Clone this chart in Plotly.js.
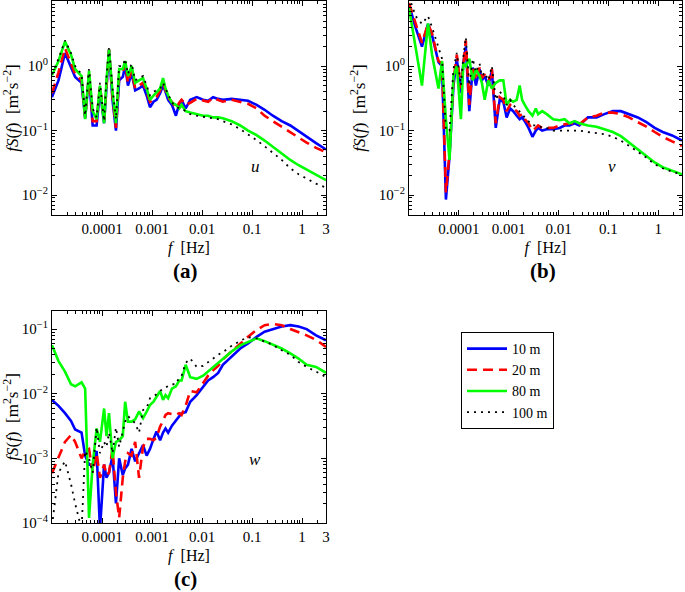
<!DOCTYPE html>
<html>
<head>
<meta charset="utf-8">
<script src="https://cdn.plot.ly/plotly-3.0.1.min.js"></script>
<style>html,body{margin:0;padding:0;background:#fff}#chart{width:685px;height:592px}
#chart text{font-family:"Liberation Serif","Times New Roman",Times,"DejaVu Serif",serif !important}</style>
</head>
<body>
<div id="chart"></div>
<script>
// Frequencies [Hz] shared by all spectra
const freq = [1.0e-5,1.35e-5,1.82e-5,2.4e-5,2.9e-5,3.9e-5,4.6e-5,5.5e-5,6.5e-5,7.8e-5,9.1e-5,1.1e-4,1.23e-4,1.38e-4,1.62e-4,1.9e-4,2.2e-4,2.6e-4,2.9e-4,3.3e-4,3.9e-4,4.6e-4,5.5e-4,6.6e-4,7.8e-4,9.1e-4,1.07e-3,1.23e-3,1.45e-3,1.66e-3,1.86e-3,2.1e-3,2.5e-3,3.0e-3,3.5e-3,3.9e-3,4.7e-3,5.8e-3,7.8e-3,0.0105,0.0132,0.0166,0.021,0.026,0.039,0.058,0.083,0.123,0.178,0.26,0.39,0.58,0.85,1.23,1.9,3.0];

const heights = ['10 m','20 m','80 m','100 m'];

// (a) u component
const u10  = [0.33,0.6,1.6,0.95,0.68,0.55,0.155,0.72,0.12,0.12,0.42,0.13,0.5,1.8,0.3,0.1,0.6,0.68,1.0,0.5,0.78,0.42,0.45,0.5,0.35,0.23,0.28,0.3,0.38,0.5,0.4,0.3,0.25,0.17,0.26,0.3,0.22,0.3,0.33,0.3,0.29,0.33,0.31,0.3,0.31,0.3,0.29,0.25,0.21,0.17,0.14,0.12,0.097,0.08,0.064,0.051];
const u20  = [0.38,0.8,1.9,1.1,0.75,0.6,0.16,0.75,0.14,0.14,0.5,0.14,0.6,1.8,0.33,0.11,0.7,0.8,1.1,0.55,0.85,0.45,0.5,0.55,0.4,0.28,0.3,0.33,0.42,0.55,0.42,0.32,0.28,0.22,0.27,0.3,0.25,0.27,0.31,0.29,0.28,0.32,0.3,0.28,0.3,0.28,0.26,0.22,0.17,0.14,0.115,0.093,0.077,0.065,0.054,0.046];
const u80  = [0.72,1.2,2.4,1.5,0.9,0.7,0.15,0.85,0.2,0.15,0.5,0.13,0.6,1.8,0.4,0.13,0.9,0.9,1.2,0.7,1.0,0.55,0.6,0.65,0.45,0.3,0.35,0.4,0.45,0.65,0.45,0.35,0.27,0.25,0.22,0.25,0.2,0.19,0.18,0.17,0.17,0.16,0.16,0.155,0.14,0.12,0.1,0.085,0.07,0.056,0.045,0.035,0.029,0.025,0.021,0.017];
const u100 = [0.75,1.3,2.5,1.6,1.0,0.75,0.17,0.9,0.22,0.16,0.55,0.14,0.7,1.9,0.45,0.15,1.0,1.0,1.3,0.75,1.1,0.6,0.65,0.7,0.5,0.35,0.4,0.42,0.45,0.55,0.45,0.35,0.27,0.24,0.22,0.22,0.2,0.18,0.17,0.165,0.16,0.155,0.15,0.14,0.125,0.105,0.088,0.071,0.057,0.045,0.035,0.026,0.021,0.018,0.015,0.013];

// (b) v component
const v10  = [9.0,4.0,2.0,4.5,3.0,1.15,1.0,0.0085,0.04,0.5,1.3,0.38,1.1,2.0,0.2,0.95,0.5,0.9,0.6,0.7,0.5,0.85,0.11,0.3,0.28,0.16,0.22,0.2,0.17,0.15,0.16,0.14,0.11,0.08,0.1,0.11,0.1,0.105,0.105,0.11,0.12,0.12,0.13,0.12,0.16,0.16,0.18,0.2,0.2,0.18,0.16,0.135,0.11,0.095,0.084,0.07];
const v20  = [9.5,4.5,2.3,4.5,3.2,1.2,1.1,0.011,0.045,0.6,1.5,0.45,1.2,2.5,0.25,1.0,0.6,0.95,0.65,0.75,0.55,0.9,0.13,0.33,0.3,0.2,0.25,0.22,0.2,0.17,0.18,0.15,0.13,0.1,0.11,0.12,0.11,0.11,0.11,0.12,0.125,0.13,0.13,0.125,0.16,0.17,0.19,0.19,0.18,0.16,0.135,0.115,0.095,0.08,0.068,0.058];
const v80  = [8.0,2.0,0.5,4.6,1.5,0.45,1.2,0.15,0.035,0.7,1.0,0.15,1.1,1.0,1.3,0.6,0.9,0.7,0.55,0.3,0.6,0.45,0.55,0.6,0.6,0.25,0.3,0.28,0.3,0.5,0.3,0.25,0.2,0.17,0.22,0.18,0.2,0.18,0.15,0.145,0.15,0.13,0.14,0.13,0.12,0.115,0.105,0.095,0.082,0.065,0.052,0.04,0.032,0.027,0.024,0.021];
const v100 = [12,6,4.5,6,4,2,1.3,0.1,0.1,0.9,1.6,0.5,1.4,2.8,0.5,1.3,0.8,1.1,0.7,0.8,0.6,1.0,0.3,0.4,0.35,0.25,0.3,0.25,0.22,0.2,0.18,0.16,0.14,0.12,0.12,0.12,0.11,0.11,0.1,0.1,0.1,0.1,0.1,0.1,0.095,0.09,0.088,0.08,0.07,0.058,0.047,0.038,0.03,0.026,0.023,0.021];

// (c) w component
const w10  = [0.008,0.0065,0.005,0.0038,0.0028,0.0025,0.0011,0.0008,0.0008,0.0013,0.00008,0.0008,0.0005,0.0006,0.0011,0.0002,0.001,0.00055,0.0007,0.0008,0.0014,0.0009,0.0012,0.0016,0.0011,0.0014,0.002,0.0026,0.0019,0.0025,0.0029,0.0025,0.0032,0.0039,0.0045,0.005,0.0052,0.0075,0.0095,0.013,0.016,0.018,0.021,0.028,0.037,0.05,0.06,0.076,0.091,0.1,0.11,0.115,0.11,0.1,0.08,0.067];
const w20  = [0.00059,0.001,0.0018,0.0023,0.0018,0.001,0.0013,0.0014,0.0006,0.0012,0.0005,0.0008,0.00055,0.0006,0.0014,0.0003,0.00012,0.0005,0.0009,0.0012,0.0011,0.0018,0.0005,0.0015,0.002,0.002,0.0019,0.0021,0.0031,0.0038,0.0047,0.005,0.0048,0.0047,0.005,0.0047,0.0065,0.011,0.0105,0.015,0.019,0.023,0.027,0.034,0.045,0.06,0.076,0.097,0.115,0.12,0.115,0.1,0.09,0.08,0.068,0.053];
const w80  = [0.056,0.032,0.022,0.014,0.013,0.015,0.012,0.00012,0.0008,0.0029,0.0018,0.0059,0.0022,0.005,0.001,0.0018,0.0019,0.0022,0.0075,0.0037,0.0037,0.004,0.0053,0.0042,0.0053,0.0067,0.0075,0.009,0.011,0.008,0.0095,0.0085,0.012,0.013,0.016,0.016,0.028,0.018,0.017,0.019,0.022,0.026,0.03,0.035,0.045,0.056,0.064,0.072,0.065,0.057,0.05,0.042,0.035,0.028,0.026,0.021];
const w100 = [0.00009,0.0006,0.0009,0.0004,0.0002,0.00008,0.0013,0.001,0.0006,0.003,0.0012,0.0018,0.0015,0.0025,0.0012,0.003,0.0015,0.0025,0.0037,0.0045,0.004,0.0035,0.0025,0.0056,0.006,0.0085,0.009,0.01,0.011,0.012,0.0125,0.013,0.014,0.014,0.018,0.019,0.03,0.035,0.026,0.027,0.031,0.035,0.04,0.044,0.055,0.066,0.075,0.072,0.064,0.057,0.047,0.04,0.031,0.026,0.022,0.018];

const xTickVals = [1e-4,1e-3,1e-2,1e-1,1,3];
const xTickText = ['0.0001','0.001','0.01','0.1','1','3'];

const styles = [
  {color:'#0000ff', width:2.6, dash:'solid'},
  {color:'#ff0000', width:2.6, dash:'10px,6px'},
  {color:'#00ff00', width:2.6, dash:'solid'},
  {color:'#000000', width:1.8, dash:'2px,5px'}
];

const panels = [
  {xa:'x',  ya:'y',  series:[u10,u20,u80,u100]},
  {xa:'x2', ya:'y2', series:[v10,v20,v80,v100]},
  {xa:'x3', ya:'y3', series:[w10,w20,w80,w100]}
];

const traces = [];
panels.forEach((p, pi) => {
  p.series.forEach((ys, si) => {
    traces.push({
      x: freq, y: ys, xaxis: p.xa, yaxis: p.ya,
      type: 'scatter', mode: 'lines', name: heights[si],
      line: styles[si], showlegend: pi === 0,
      legendrank: si
    });
  });
});

function minorVals(lo, hi) {
  const out = [];
  for (let e = lo; e <= hi; e++) {
    for (let k = 2; k <= 9; k++) out.push(k * Math.pow(10, e));
  }
  return out;
}

const FAM = '"Liberation Serif", "Times New Roman", Times, "DejaVu Serif", serif';
const font = {family:FAM, size:15, color:'#000'};
const ytitle = '<i>fS</i>(<i>f</i>)  [m<sup>2</sup>s<sup>−2</sup>]';
const xtitle = '<i>f</i>  [Hz]';

function xaxis(domain, anchor) {
  return {
    type:'log', domain: domain, anchor: anchor, range:[-5, Math.log10(3)],
    tickmode:'array', tickvals: xTickVals, ticktext: xTickText,
    ticks:'inside', ticklen:5, tickcolor:'#000', showline:true, linecolor:'#000', linewidth:1,
    mirror:'ticks', showgrid:false, zeroline:false, tickfont: font,
    minor:{tickmode:'array', tickvals: minorVals(-5, 0), ticks:'inside', ticklen:3, tickcolor:'#000', showgrid:false},
    title:{text: xtitle, font:{family:FAM, size:16, color:'#000'}, standoff:5}
  };
}
function yaxis(domain, anchor, range, exps) {
  return {
    type:'log', domain: domain, anchor: anchor, range: range,
    tickmode:'array', tickvals: exps.map(e => Math.pow(10, e)),
    ticktext: exps.map(e => '10<sup>' + (e < 0 ? '−' + (-e) : e) + '</sup>'),
    ticks:'inside', ticklen:5, tickcolor:'#000', showline:true, linecolor:'#000', linewidth:1,
    mirror:'ticks', showgrid:false, zeroline:false, tickfont: font,
    minor:{tickmode:'array', tickvals: minorVals(Math.floor(range[0]), Math.ceil(range[1])), ticks:'inside', ticklen:3, tickcolor:'#000', showgrid:false},
    title:{text: ytitle, font:{family:FAM, size:17, color:'#000'}, standoff:8}
  };
}

const ann = (text, px, py, size) => ({text:text, xref:'paper', yref:'paper', x:px/685, y:1-py/592,
  xanchor:'center', yanchor:'middle', showarrow:false, font:{family:FAM, size:size, color:'#000'}});

const layout = {
  width:685, height:592, autosize:false,
  margin:{l:0, r:0, t:0, b:0},
  paper_bgcolor:'#fff', plot_bgcolor:'#fff',
  font: font,
  xaxis:  xaxis([0.0759, 0.4759], 'y'),
  yaxis:  yaxis([0.6368, 0.9983], 'x',  [-2.31, 1.01], [-2,-1,0]),
  xaxis2: xaxis([0.5971, 0.9956], 'y2'),
  yaxis2: yaxis([0.6368, 0.9983], 'x2', [-2.31, 1.01], [-2,-1,0]),
  xaxis3: xaxis([0.0759, 0.4759], 'y3'),
  yaxis3: yaxis([0.1166, 0.4747], 'x3', [-4.0, -0.72], [-4,-3,-2,-1]),
  showlegend:true,
  legend:{x:461/685, y:1-332/592, xanchor:'left', yanchor:'top', bgcolor:'#fff',
          bordercolor:'#000', borderwidth:1, font:{family:FAM, size:14, color:'#000'},
          tracegroupgap:0, itemwidth:40},
  annotations:[
    ann('<b>(a)</b>', 185, 271, 21),
    ann('<b>(b)</b>', 543, 271, 21),
    ann('<b>(c)</b>', 185, 579, 21),
    ann('<i>u</i>', 255, 166, 17),
    ann('<i>v</i>', 612, 166, 17),
    ann('<i>w</i>', 255, 460, 17)
  ]
};

Plotly.newPlot('chart', traces, layout, {staticPlot:true, displayModeBar:false});
</script>
</body>
</html>
